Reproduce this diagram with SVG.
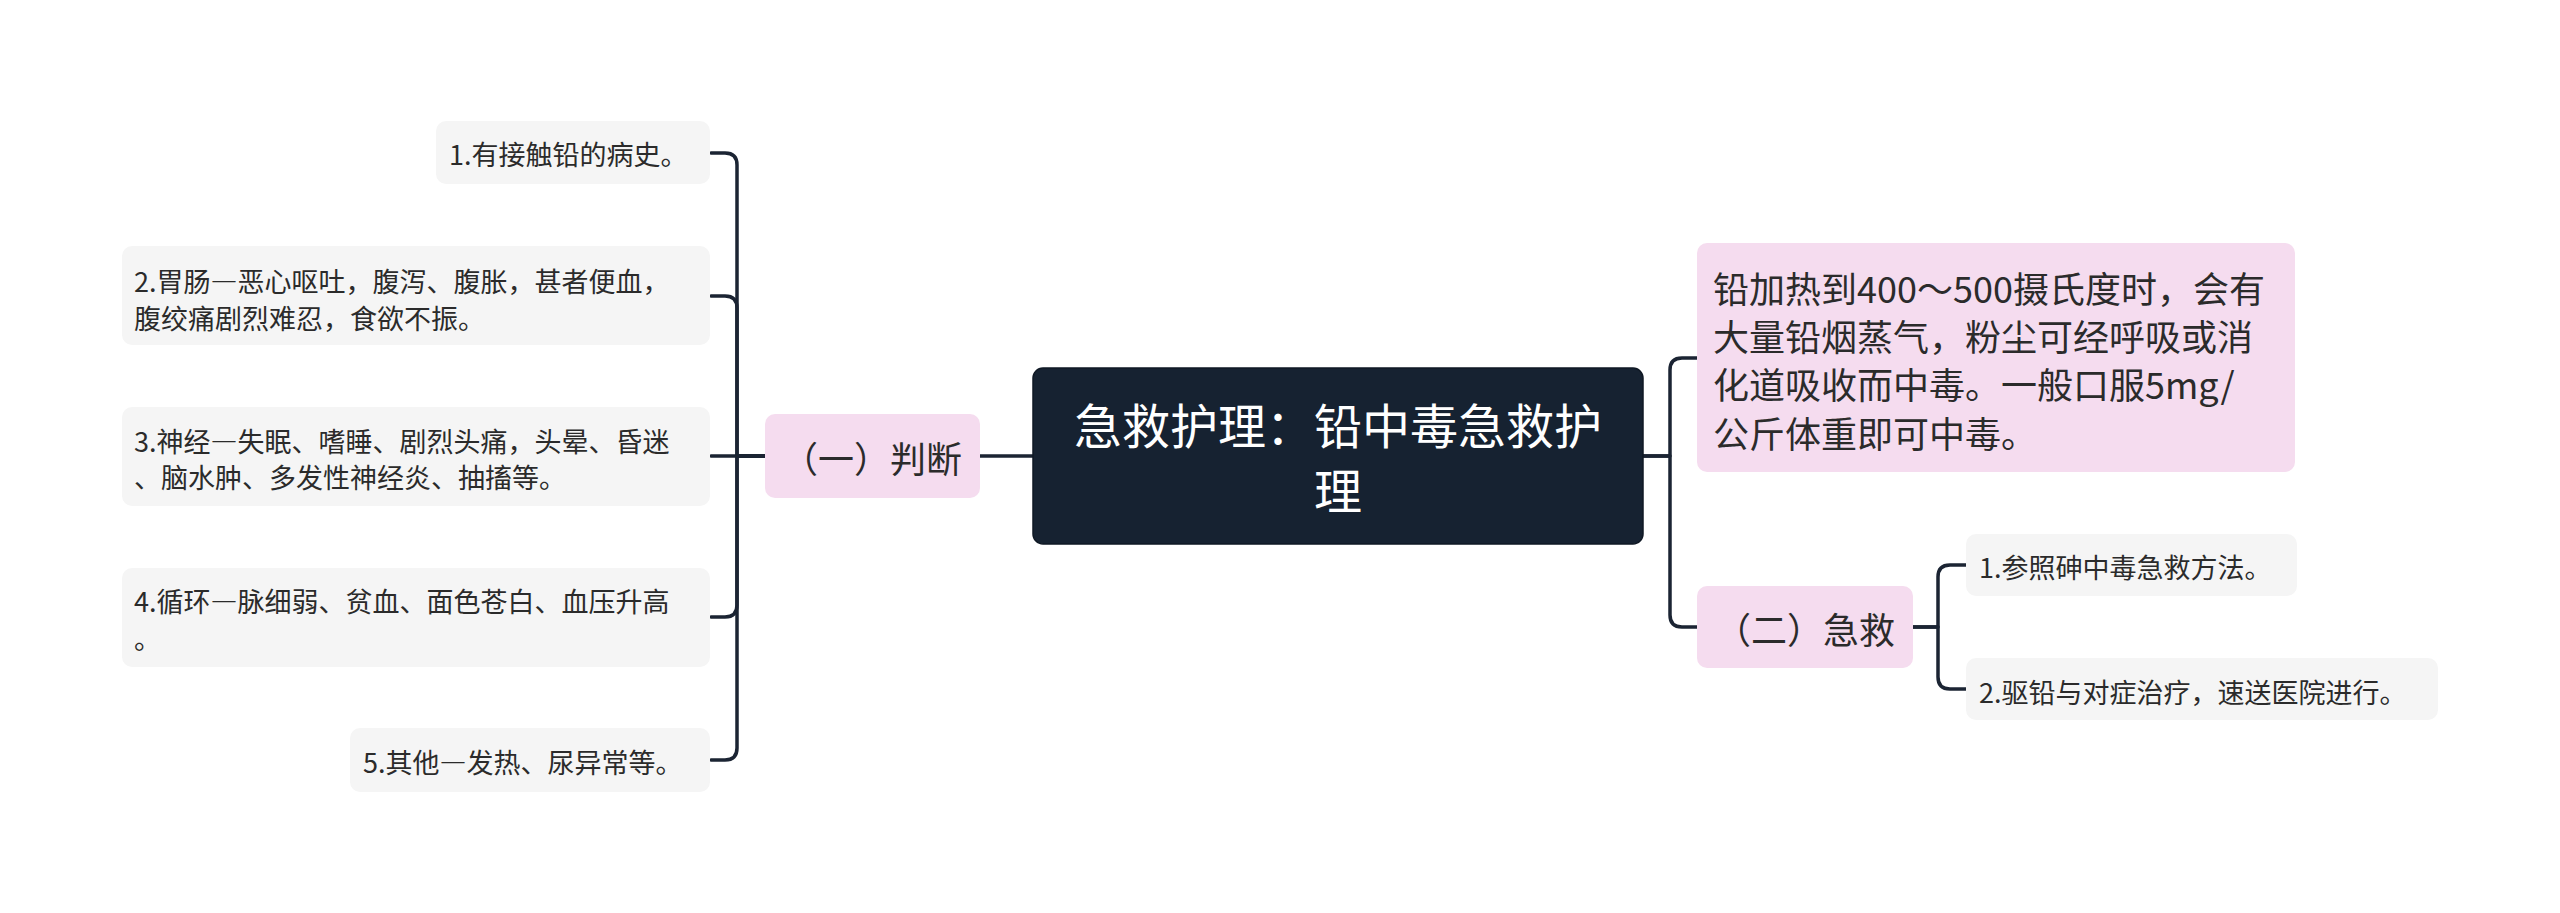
<svg xmlns="http://www.w3.org/2000/svg" width="2560" height="913" viewBox="0 0 2560 913" xml:lang="zh-CN" lang="zh-CN">
<style>
text{font-family:"Noto Sans CJK SC","Noto Sans",sans-serif;dominant-baseline:central}
.root{fill:#162231;stroke:#0f1824;stroke-width:1.5}
.pink{fill:#F5DCEF}
.gray{fill:#F5F5F5}
.rt{fill:#ffffff;font-size:48px;text-anchor:middle}
.l1{fill:#2b2b2b;font-size:36px}
.l2{fill:#2b2b2b;font-size:27px}
.conn path{fill:none;stroke:#1B2433;stroke-width:3.5;stroke-linecap:round;stroke-linejoin:round}
</style>
<rect width="2560" height="913" fill="#ffffff"/>
<g class="conn" id="connectors">
<path d="M1033,456 H980"/>
<path d="M765,456 H737 V165 Q737,153 725,153 H711"/>
<path d="M765,456 H737 V308 Q737,296 725,296 H711"/>
<path d="M765,456 H711"/>
<path d="M765,456 H737 V605 Q737,617 725,617 H711"/>
<path d="M765,456 H737 V748 Q737,760 725,760 H711"/>
<path d="M1643,456 H1670 V370 Q1670,358 1682,358 H1697"/>
<path d="M1643,456 H1670 V615 Q1670,627 1682,627 H1697"/>
<path d="M1913,627 H1938 V577 Q1938,565 1950,565 H1966"/>
<path d="M1913,627 H1938 V677 Q1938,689 1950,689 H1966"/>
</g>
<g id="root">
<rect class="root" x="1033" y="368" width="610" height="176" rx="10"/>
<text class="rt" x="1338" y="423">急救护理：铅中毒急救护</text>
<text class="rt" x="1338" y="488">理</text>
</g>
<g id="judge">
<rect class="pink" x="765" y="414" width="215" height="84" rx="10"/>
<text class="l1" x="872" y="457" text-anchor="middle">（一）判断</text>
</g>
<g id="desc">
<rect class="pink" x="1697" y="243" width="598" height="229" rx="10"/>
<text class="l1" x="1713" y="287">铅加热到400～500摄氏度时，会有</text>
<text class="l1" x="1713" y="335">大量铅烟蒸气，粉尘可经呼吸或消</text>
<text class="l1" x="1713" y="383">化道吸收而中毒。一般口服5mg/</text>
<text class="l1" x="1713" y="432">公斤体重即可中毒。</text>
</g>
<g id="rescue">
<rect class="pink" x="1697" y="586" width="216" height="82" rx="10"/>
<text class="l1" x="1805" y="628" text-anchor="middle">（二）急救</text>
</g>
<g id="j1">
<rect class="gray" x="436" y="121" width="274" height="63" rx="10"/>
<text class="l2" x="449" y="153">1.有接触铅的病史。</text>
</g>
<g id="j2">
<rect class="gray" x="122" y="246" width="588" height="99" rx="10"/>
<text class="l2" x="134" y="280">2.胃肠—恶心呕吐，腹泻、腹胀，甚者便血，</text>
<text class="l2" x="134" y="317">腹绞痛剧烈难忍，食欲不振。</text>
</g>
<g id="j3">
<rect class="gray" x="122" y="407" width="588" height="99" rx="10"/>
<text class="l2" x="134" y="440">3.神经—失眠、嗜睡、剧烈头痛，头晕、昏迷</text>
<text class="l2" x="134" y="476">、脑水肿、多发性神经炎、抽搐等。</text>
</g>
<g id="j4">
<rect class="gray" x="122" y="568" width="588" height="99" rx="10"/>
<text class="l2" x="134" y="600">4.循环—脉细弱、贫血、面色苍白、血压升高</text>
<text class="l2" x="134" y="637">。</text>
</g>
<g id="j5">
<rect class="gray" x="350" y="728" width="360" height="64" rx="10"/>
<text class="l2" x="363" y="761">5.其他—发热、尿异常等。</text>
</g>
<g id="r1">
<rect class="gray" x="1966" y="534" width="331" height="62" rx="10"/>
<text class="l2" x="1979" y="566">1.参照砷中毒急救方法。</text>
</g>
<g id="r2">
<rect class="gray" x="1966" y="658" width="472" height="62" rx="10"/>
<text class="l2" x="1979" y="691">2.驱铅与对症治疗，速送医院进行。</text>
</g>
</svg>
